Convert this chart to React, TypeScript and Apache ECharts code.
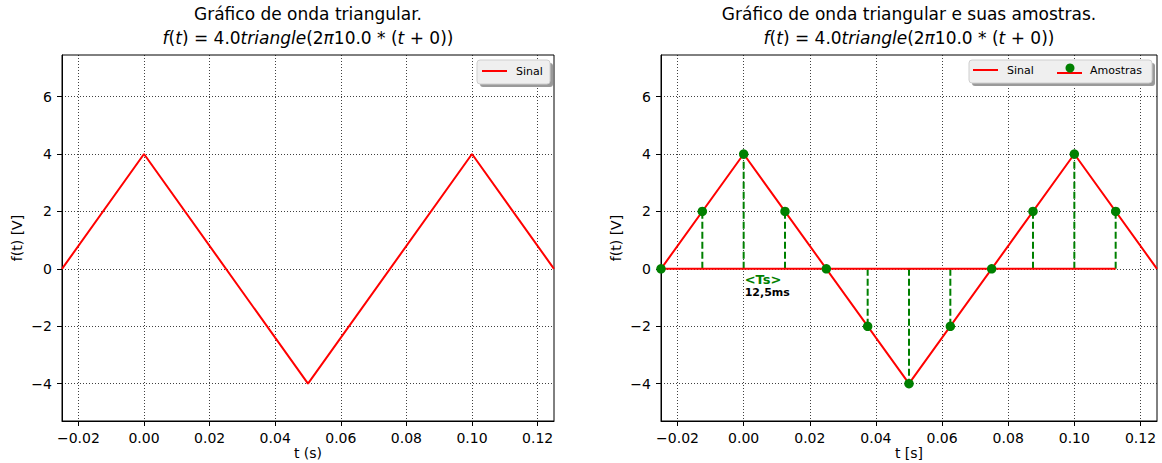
import React, { useEffect, useRef } from 'react';
import * as echarts from 'echarts';

// ---- data ----
const signalT = [-0.025, 0, 0.05, 0.1, 0.125];
const signalV = [0, 4, -4, 4, 0];
const sampleT = [-0.025, -0.0125, 0, 0.0125, 0.025, 0.0375, 0.05, 0.0625, 0.075, 0.0875, 0.1, 0.1125];
const sampleV = [0, 2, 4, 2, 0, -2, -4, -2, 0, 2, 4, 2];
const xTicks = [-0.02, 0, 0.02, 0.04, 0.06, 0.08, 0.1, 0.12];
const yTicks = [-4, -2, 0, 2, 4, 6];
const xRange = [-0.025, 0.125];
const yRange = [-5.3, 7.45];
const titles = ['Gráfico de onda triangular.', 'Gráfico de onda triangular e suas amostras.'];
const formulaRich = '{i|f}({i|t}) = 4.0{i|triangle}(2{i|π}10.0 * ({i|t} + 0))';
const xNames = ['t (s)', 't [s]'];
const yName = 'f(t) [V]';
const annot = { t: 0, v: 0, top: '<Ts>', bottom: '12,5ms' };

const FONT = '"DejaVu Sans", sans-serif';
const RED = '#ff0000';
const GREEN = '#008000';

const GRIDS = [
  { left: 62, top: 55, width: 492, height: 366 },
  { left: 661, top: 55, width: 496, height: 366 },
];

const minus = (s: string) => s.replace('-', '\u2212');

function mkX(gi: number) {
  return {
    type: 'value', gridIndex: gi, min: xRange[0], max: xRange[1],
    name: xNames[gi], nameLocation: 'middle', nameGap: 25, nameMoveOverlap: false,
    nameTextStyle: { fontSize: 14, color: '#000', fontFamily: FONT, verticalAlign: 'top' },
    axisLine: { show: true, onZero: false, lineStyle: { color: '#000', width: 1 } },
    axisTick: { show: true, inside: false, length: 5, customValues: xTicks, lineStyle: { color: '#000', width: 1 } },
    axisLabel: { customValues: xTicks, formatter: (v: number) => minus(v.toFixed(2)), fontSize: 14, color: '#000', margin: 10, fontFamily: FONT },
    splitLine: { show: true, lineStyle: { color: '#000', type: [1, 2], width: 1, opacity: 0.75 } },
  };
}
function mkY(gi: number) {
  return {
    type: 'value', gridIndex: gi, min: yRange[0], max: yRange[1],
    name: yName, nameLocation: 'middle', nameGap: 38, nameRotate: 90, nameMoveOverlap: false,
    nameTextStyle: { fontSize: 14, color: '#000', fontFamily: FONT },
    axisLine: { show: true, onZero: false, lineStyle: { color: '#000', width: 1 } },
    axisTick: { show: true, inside: false, length: 5, customValues: yTicks, lineStyle: { color: '#000', width: 1 } },
    axisLabel: { customValues: yTicks, formatter: (v: number) => minus(String(v)), fontSize: 14, color: '#000', margin: 10, fontFamily: FONT },
    splitLine: { show: true, lineStyle: { color: '#000', type: [1, 2], width: 1, opacity: 0.75 } },
  };
}

function mkTitle(gi: number) {
  const g = GRIDS[gi];
  return {
    text: titles[gi] + '\n' + formulaRich,
    left: g.left + g.width / 2, top: 2, padding: 0, textAlign: 'center',
    textStyle: {
      fontSize: 17, fontWeight: 'normal', color: '#000', fontFamily: FONT, lineHeight: 24,
      rich: { i: { fontStyle: 'italic', fontSize: 17, color: '#000', fontFamily: FONT, lineHeight: 24 } },
    },
  };
}

function legendBox(x: number, y: number, w: number, h: number) {
  return [
    { type: 'rect', shape: { x: x + 3, y: y + 3, width: w, height: h, r: 3 }, style: { fill: '#9a9a9a' }, z: 100 },
    { type: 'rect', shape: { x, y, width: w, height: h, r: 3 }, style: { fill: '#efefef', stroke: '#cfcfcf', lineWidth: 1 }, z: 101 },
  ];
}

export default function App() {
  const ref = useRef<HTMLDivElement>(null);
  useEffect(() => {
    if (!ref.current) return;
    const chart = echarts.init(ref.current, undefined, { renderer: 'svg' });
    const sig = signalT.map((t, i) => [t, signalV[i]]);
    const samp = sampleT.map((t, i) => [t, sampleV[i]]);
    chart.setOption({
      animation: false,
      backgroundColor: '#fff',
      title: [mkTitle(0), mkTitle(1)],
      grid: GRIDS.map((g) => ({ ...g, show: true, borderColor: '#000', borderWidth: 1, backgroundColor: 'transparent', containLabel: false, outerBoundsMode: 'none' })),
      xAxis: [mkX(0), mkX(1)],
      yAxis: [mkY(0), mkY(1)],
      series: [
        { type: 'line', xAxisIndex: 0, yAxisIndex: 0, data: sig, symbol: 'none', lineStyle: { color: RED, width: 2 }, z: 3 },
        { type: 'line', xAxisIndex: 1, yAxisIndex: 1, data: sig, symbol: 'none', lineStyle: { color: RED, width: 2 }, z: 3 },
        {
          type: 'custom', xAxisIndex: 1, yAxisIndex: 1, data: samp, z: 4,
          renderItem: (params: any, api: any) => {
            const p0 = api.coord([api.value(0), 0]);
            const p1 = api.coord([api.value(0), api.value(1)]);
            return { type: 'line', shape: { x1: p0[0], y1: p0[1], x2: p1[0], y2: p1[1] }, style: { stroke: GREEN, lineWidth: 2, lineDash: [7, 3] } };
          },
        },
        {
          type: 'line', xAxisIndex: 1, yAxisIndex: 1, symbol: 'none', z: 5,
          data: [[sampleT[0], 0], [sampleT[sampleT.length - 1], 0]],
          lineStyle: { color: RED, width: 2 },
        },
        { type: 'scatter', xAxisIndex: 1, yAxisIndex: 1, data: samp, symbol: 'circle', symbolSize: 9.5, itemStyle: { color: GREEN, opacity: 1 }, z: 6 },
      ],
    });
    const p = chart.convertToPixel({ xAxisIndex: 1, yAxisIndex: 1 }, [annot.t, annot.v]) as number[];
    chart.setOption({
      graphic: [
        { type: 'text', x: p[0] + 1, y: p[1] + 11, style: { text: annot.top, fill: GREEN, font: `bold 13px ${FONT}`, textVerticalAlign: 'middle', textAlign: 'left' }, z: 50 },
        { type: 'text', x: p[0] + 1, y: p[1] + 24, style: { text: annot.bottom, fill: '#000', font: `bold 11px ${FONT}`, textVerticalAlign: 'middle', textAlign: 'left' }, z: 50 },
        ...legendBox(477, 60, 73, 24),
        { type: 'line', shape: { x1: 482, y1: 71, x2: 507, y2: 71 }, style: { stroke: RED, lineWidth: 2 }, z: 102 },
        { type: 'text', x: 516, y: 71, style: { text: 'Sinal', fill: '#000', font: `11px ${FONT}`, textVerticalAlign: 'middle' }, z: 102 },
        ...legendBox(969, 60, 183, 23),
        { type: 'line', shape: { x1: 973, y1: 70, x2: 998, y2: 70 }, style: { stroke: RED, lineWidth: 2 }, z: 102 },
        { type: 'text', x: 1007, y: 70, style: { text: 'Sinal', fill: '#000', font: `11px ${FONT}`, textVerticalAlign: 'middle' }, z: 102 },
        { type: 'line', shape: { x1: 1057, y1: 73, x2: 1082, y2: 73 }, style: { stroke: RED, lineWidth: 2 }, z: 102 },
        { type: 'circle', shape: { cx: 1070, cy: 68, r: 4.5 }, style: { fill: GREEN }, z: 103 },
        { type: 'text', x: 1090, y: 70, style: { text: 'Amostras', fill: '#000', font: `11px ${FONT}`, textVerticalAlign: 'middle' }, z: 102 },
      ],
    });
    return () => chart.dispose();
  }, []);
  return <div ref={ref} style={{ position: 'absolute', left: 0, top: 0, width: 1162, height: 463 }} />;
}
